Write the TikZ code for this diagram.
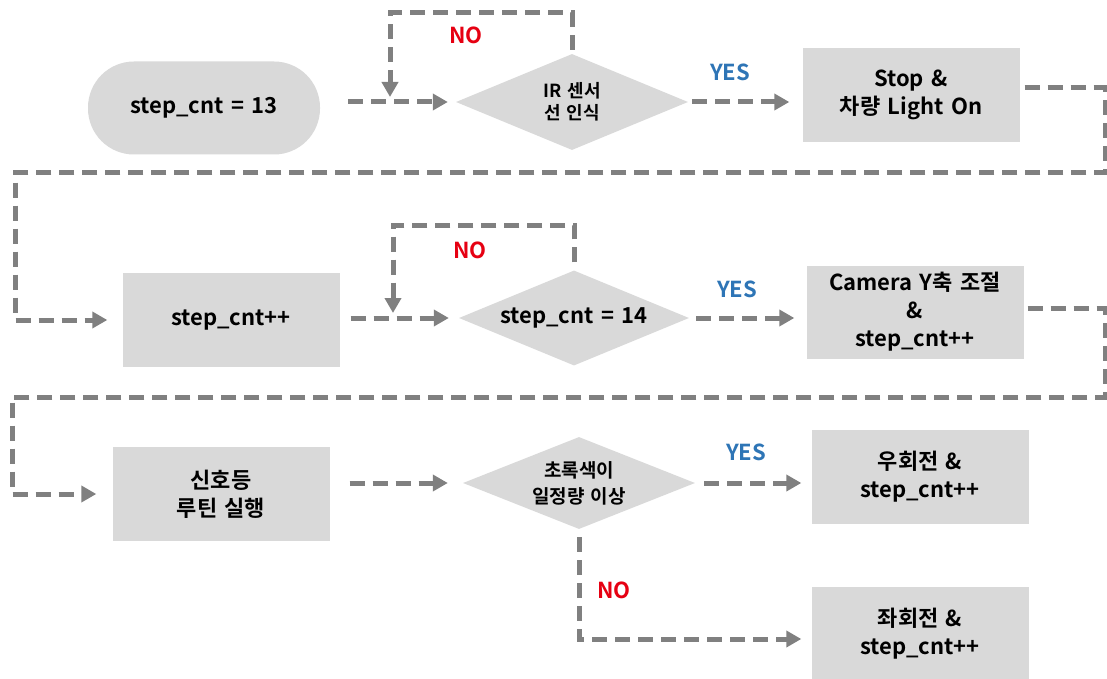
\documentclass[tikz,border=0pt]{standalone}
\usepackage{fontspec}
\setmainfont{Noto Sans CJK KR}[BoldFont={Noto Sans CJK KR Bold}, WordSpace=1.5]
\usetikzlibrary{arrows.meta,shapes.geometric}
\definecolor{boxgray}{HTML}{D9D9D9}
\definecolor{linegray}{HTML}{808080}
\definecolor{nored}{HTML}{E60012}
\definecolor{yesblue}{HTML}{2E75B6}
\tikzset{
  mainfont/.style={font=\bfseries\fontsize{22}{28}\selectfont},
  procbox/.style={rectangle, fill=boxgray, minimum width=217pt, minimum height=94pt, inner sep=0pt, align=center, mainfont},
  termbox/.style={rectangle, rounded corners=46pt, fill=boxgray, minimum width=232pt, minimum height=93pt, inner sep=0pt, align=center, mainfont},
  decbox/.style={diamond, aspect=2.4, fill=boxgray, inner sep=0pt, align=center},
  dline/.style={draw=linegray, line width=5pt, dash pattern=on 15pt off 8pt},
  arr/.style={dline, -{Triangle[length=15pt,width=16pt,fill=linegray]}},
  nolbl/.style={text=nored, font=\bfseries\fontsize{22}{24}\selectfont},
  yeslbl/.style={text=yesblue, font=\bfseries\fontsize{22}{24}\selectfont},
}
\begin{document}
\begin{tikzpicture}[x=1pt,y=-1pt]
\fill[white] (0,0) rectangle (1107,679);
\useasboundingbox (0,0) rectangle (1107,679);

% row 1
\node[termbox] (start) at (204,108) {step\_cnt = 13};
\node[decbox, minimum width=232pt, minimum height=96pt, font=\bfseries\fontsize{18}{22}\selectfont] (d1) at (572,102) {IR 센서\\선 인식};
\node[procbox] (stop) at (911,95) {Stop \&\\차량 Light On};

% row 2
\node[procbox] (box2) at (231,320) {step\_cnt++};
\node[decbox, minimum width=230pt, minimum height=95pt, mainfont] (d2) at (574,318) {step\_cnt = 14};
\node[procbox, minimum height=93pt] (cam) at (915,312) {Camera Y축 조절\\\&\\step\_cnt++};

% row 3
\node[procbox] (box3) at (221,494) {신호등\\루틴 실행};
\node[decbox, minimum width=232pt, minimum height=92pt, font=\bfseries\fontsize{19}{26}\selectfont] (d3) at (579,483) {초록색이\\일정량 이상};
\node[procbox] (rightb) at (920,477) {우회전 \&\\step\_cnt++};
\node[procbox] (leftb) at (920,634) {좌회전 \&\\step\_cnt++};

% labels
\node[nolbl] (no1) at (466,35) {NO};
\node[yeslbl] (yes1) at (730,72) {YES};
\node[nolbl] (no2) at (470,250) {NO};
\node[yeslbl] (yes2) at (737,289) {YES};
\node[yeslbl] (yes3) at (746,452) {YES};
\node[nolbl] (no3) at (614,590) {NO};

% helper coordinates
\coordinate (l1a) at (390,13);
\coordinate (j1) at (390,102);
\coordinate (r1a) at (1105,88);
\coordinate (r1b) at (15,173);
\coordinate (l2a) at (393,225);
\coordinate (j2) at (393,318);
\coordinate (r2a) at (1105,308);
\coordinate (r2b) at (12,397);

% connectors row 1
\draw[arr, shorten <=28pt, shorten >=8pt] (start.east |- d1.west) -- (d1.west);
\draw[arr, shorten <=4pt, shorten >=5pt] (d1.north) |- (l1a) -- (j1);
\draw[arr, shorten <=4pt, shorten >=13pt] (d1.east) -- (d1.east -| stop.west);
\draw[arr, shorten <=5pt, shorten >=15pt] (stop.east |- r1a) -- (r1a) |- (r1b) |- (box2.west);

% connectors row 2
\draw[arr, shorten <=11pt, shorten >=10pt] (box2.east |- d2.west) -- (d2.west);
\draw[arr, shorten <=8pt, shorten >=5pt] (d2.north) |- (l2a) -- (j2);
\draw[arr, shorten <=7pt, shorten >=12pt] (d2.east) -- (d2.east -| cam.west);
\draw[arr, shorten <=4pt, shorten >=16pt] (cam.east |- r2a) -- (r2a) |- (r2b) |- (box3.west);

% connectors row 3
\draw[arr, shorten <=20pt, shorten >=15pt] (box3.east |- d3.west) -- (d3.west);
\draw[arr, shorten <=9pt, shorten >=10pt] (d3.east) -- (d3.east -| rightb.west);
\draw[arr, shorten <=8pt, shorten >=10pt] (d3.south) |- ([yshift=-5pt]leftb.west);
\end{tikzpicture}
\end{document}
